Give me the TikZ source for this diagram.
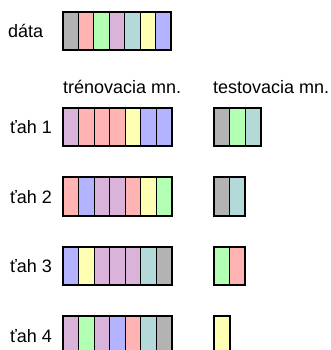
\documentclass[tikz,border=0pt]{standalone}
\usepackage{fontspec}
\setmainfont{Liberation Sans}
\definecolor{cgr}{HTML}{B3B3B3}
\definecolor{cpk}{HTML}{FFB3B3}
\definecolor{cgn}{HTML}{B3FFB3}
\definecolor{cpu}{HTML}{D9B3D9}
\definecolor{cte}{HTML}{B3D9D9}
\definecolor{cye}{HTML}{FFFFB3}
\definecolor{cbl}{HTML}{B3B3FF}
\tikzset{
  cell/.style={draw=black, line width=1pt, minimum width=15.5pt, minimum height=38.5pt, inner sep=0pt, outer sep=0pt, anchor=north west},
  outer/.style={draw=black, line width=2pt},
  lbl/.style={inner sep=0pt, anchor=base west, font=\fontsize{18}{21}\selectfont},
}
\begin{document}
\begin{tikzpicture}[x=1pt,y=1pt]
\useasboundingbox (0,0) rectangle (330,-350);
\clip (0,0) rectangle (330,-350);
\fill[white] (0,0) rectangle (330,-350);
% labels
\node[lbl] (ldata) at (8,-37.5) {dáta};
\node[lbl] (ltrain) at (63,-93.5) {trénovacia mn.};
\node[lbl] (ltest) at (213,-93.5) {testovacia mn.};
\node[lbl] (l1) at (10,-133.5) {ťah 1};
\node[lbl] (l2) at (10,-203.5) {ťah 2};
\node[lbl] (l3) at (10,-272.5) {ťah 3};
\node[lbl] (l4) at (10,-342.5) {ťah 4};
% data
\foreach \c [count=\i] in {cgr,cpk,cgn,cpu,cte,cye,cbl}
  \node[cell, fill=\c] (d\i) at ({62.5+(\i-1)*15.5},-12) {};
\draw[outer] (d1.north west) rectangle (d7.south east);
% row 1
\foreach \c [count=\i] in {cpu,cpk,cpk,cpk,cye,cbl,cbl}
  \node[cell, fill=\c] (a\i) at ({63+(\i-1)*15.5},-107.5) {};
\draw[outer] (a1.north west) rectangle (a7.south east);
\foreach \c [count=\i] in {cgr,cgn,cte}
  \node[cell, fill=\c] (at\i) at ({214+(\i-1)*15.5},-107.5) {};
\draw[outer] (at1.north west) rectangle (at3.south east);
% row 2
\foreach \c [count=\i] in {cpk,cbl,cpu,cpu,cpk,cye,cgn}
  \node[cell, fill=\c] (b\i) at ({63+(\i-1)*15.5},-177) {};
\draw[outer] (b1.north west) rectangle (b7.south east);
\foreach \c [count=\i] in {cgr,cte}
  \node[cell, fill=\c] (bt\i) at ({214+(\i-1)*15.5},-177) {};
\draw[outer] (bt1.north west) rectangle (bt2.south east);
% row 3
\foreach \c [count=\i] in {cbl,cye,cpu,cpu,cpu,cte,cgr}
  \node[cell, fill=\c] (c\i) at ({63+(\i-1)*15.5},-246.5) {};
\draw[outer] (c1.north west) rectangle (c7.south east);
\foreach \c [count=\i] in {cgn,cpk}
  \node[cell, fill=\c] (ct\i) at ({214+(\i-1)*15.5},-246.5) {};
\draw[outer] (ct1.north west) rectangle (ct2.south east);
% row 4
\foreach \c [count=\i] in {cpu,cgn,cpu,cbl,cpk,cte,cgr}
  \node[cell, fill=\c] (e\i) at ({63+(\i-1)*15.5},-316) {};
\draw[outer] (e1.north west) rectangle (e7.south east);
\foreach \c [count=\i] in {cye}
  \node[cell, fill=\c] (et\i) at ({214+(\i-1)*15.5},-316) {};
\draw[outer] (et1.north west) rectangle (et1.south east);
\end{tikzpicture}
\end{document}
